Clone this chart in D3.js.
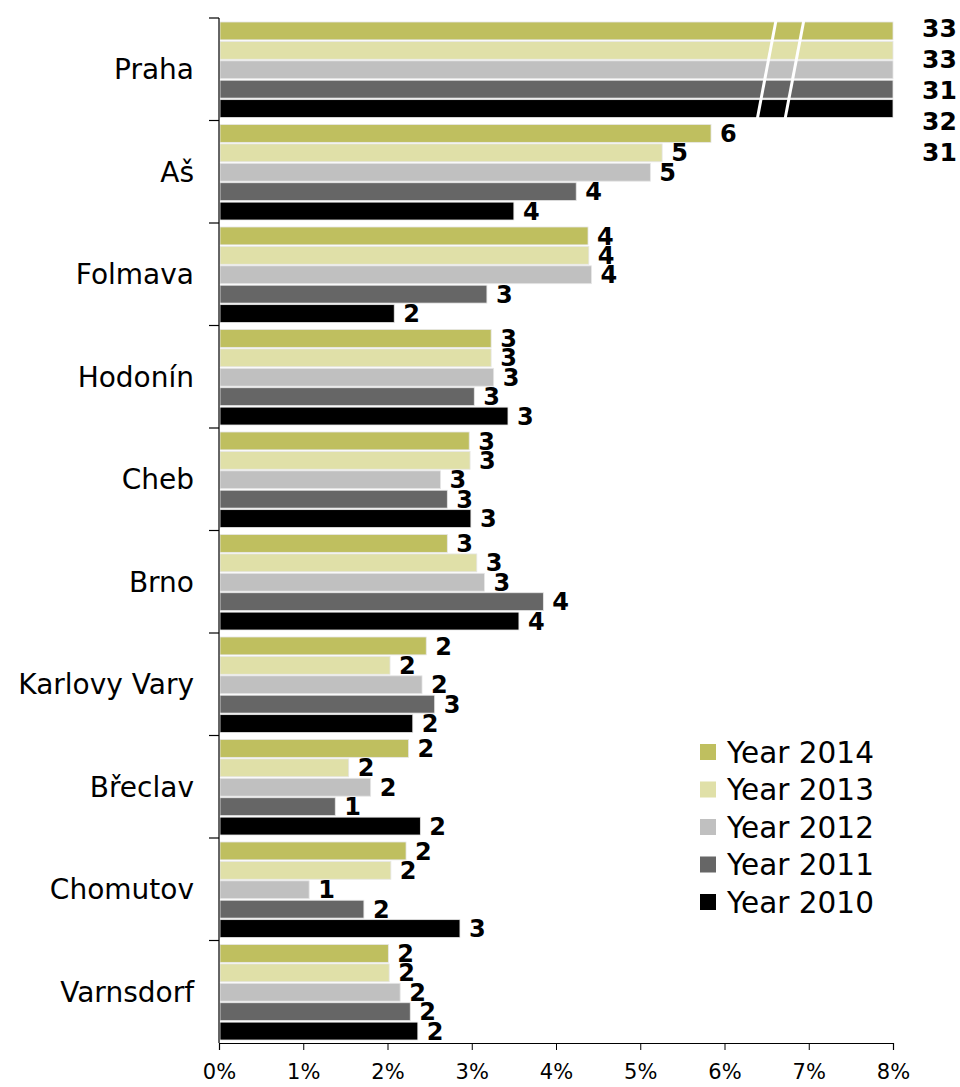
<!DOCTYPE html>
<html><head><meta charset="utf-8">
<script src="https://cdn.jsdelivr.net/npm/d3@7"></script>
<style>body{margin:0;background:#fff}svg{display:block}</style>
</head><body>
<script>
const categories = ["Praha","Aš","Folmava","Hodonín","Cheb","Brno","Karlovy Vary","Břeclav","Chomutov","Varnsdorf"];
const seriesNames = ["Year 2014","Year 2013","Year 2012","Year 2011","Year 2010"];
const seriesColors = ["#BFBF5F","#E0E0A8","#C0C0C0","#666666","#000000"];
const year2014 = [33,5.84,4.38,3.23,2.97,2.71,2.46,2.25,2.22,2.01];
const year2013 = [33,5.26,4.39,3.23,2.98,3.06,2.03,1.54,2.04,2.02];
const year2012 = [31,5.12,4.42,3.26,2.63,3.15,2.41,1.80,1.07,2.15];
const year2011 = [32,4.24,3.18,3.03,2.71,3.85,2.56,1.38,1.72,2.27];
const year2010 = [31,3.50,2.08,3.43,2.99,3.56,2.30,2.39,2.86,2.36];
const xTicks = [0,1,2,3,4,5,6,7,8];
const seriesValues = [year2014,year2013,year2012,year2011,year2010];

const W=960,H=1087;
const m={left:219,right:893,top:18,bottom:1043};
const svg=d3.select("body").append("svg").attr("width",W).attr("height",H);

const x=d3.scaleLinear().domain([0,8]).range([m.left,m.right]).clamp(true);
const y=d3.scaleBand().domain(categories).range([m.top,m.bottom]).padding(0);
const inner=d3.scaleBand().domain(d3.range(5)).range([4,y.bandwidth()-3]).paddingInner(0.08).paddingOuter(0);

const g=svg.append("g");
categories.forEach((c,ci)=>{
  seriesValues.forEach((vals,si)=>{
    const v=vals[ci];
    const y0=y(c)+inner(si);
    g.append("rect").attr("x",x(0)+1).attr("y",y0)
      .attr("width",x(v)-x(0)-1).attr("height",inner.bandwidth())
      .attr("fill",seriesColors[si]).attr("stroke","#e6e6e6").attr("stroke-width",0.8);
    if(v<=8){
      g.append("text").attr("x",x(v)+9).attr("y",y0+inner.bandwidth()/2)
        .attr("dy","0.36em").attr("font-family","DejaVu Sans").attr("font-weight","bold")
        .attr("font-size",24).attr("fill","#000").text(Math.round(v));
    } else {
      g.append("text").attr("x",922).attr("y",y(c)+10+si*31)
        .attr("dy","0.36em").attr("font-family","DejaVu Sans").attr("font-weight","bold")
        .attr("font-size",25).attr("fill","#000").text(Math.round(v));
    }
  });
});
// axis break marks on Praha bars
const pTop=y(categories[0])+inner(0)-1, pBot=y(categories[0])+inner(4)+inner.bandwidth()+1;
[[6.61,6.39],[6.94,6.72]].forEach(([a,b])=>{
  g.append("line").attr("x1",x(a)).attr("y1",pTop).attr("x2",x(b)).attr("y2",pBot)
   .attr("stroke","#fff").attr("stroke-width",3);
});

// y axis
const yAxisG=svg.append("g");
yAxisG.append("line").attr("x1",m.left).attr("x2",m.left).attr("y1",m.top).attr("y2",m.bottom).attr("stroke","#000").attr("stroke-width",1.2);
d3.range(categories.length).forEach(i=>{
  const yy=y(categories[i]);
  yAxisG.append("line").attr("x1",m.left-10).attr("x2",m.left).attr("y1",yy).attr("y2",yy).attr("stroke","#000").attr("stroke-width",1.2);
});
categories.forEach(c=>{
  yAxisG.append("text").attr("x",194).attr("y",y(c)+y.bandwidth()/2).attr("dy","0.36em")
    .attr("text-anchor","end").attr("font-family","DejaVu Sans").attr("font-size",28).attr("fill","#000").text(c);
});

// x axis
const xAxis=d3.axisBottom(x).tickValues(xTicks).tickSize(7).tickFormat(d=>d+"%");
const xg=svg.append("g").attr("transform",`translate(0,${m.bottom})`).call(xAxis);
xg.select(".domain").attr("stroke","#000").attr("stroke-width",1.2);
xg.selectAll(".tick line").attr("stroke","#000").attr("stroke-width",1);
xg.selectAll(".tick text").attr("font-family","DejaVu Sans").attr("font-size",21).attr("fill","#000").attr("dy","1.25em");

// legend
const lg=svg.append("g").attr("transform","translate(700,752)");
seriesNames.forEach((n,i)=>{
  const row=lg.append("g").attr("transform",`translate(0,${i*37.5})`);
  row.append("rect").attr("x",0).attr("y",-8).attr("width",16).attr("height",16).attr("fill",seriesColors[i]);
  row.append("text").attr("x",27).attr("y",0).attr("dy","0.36em").attr("font-family","DejaVu Sans").attr("font-size",29.5).attr("fill","#000").text(n);
});
</script>
</body></html>
